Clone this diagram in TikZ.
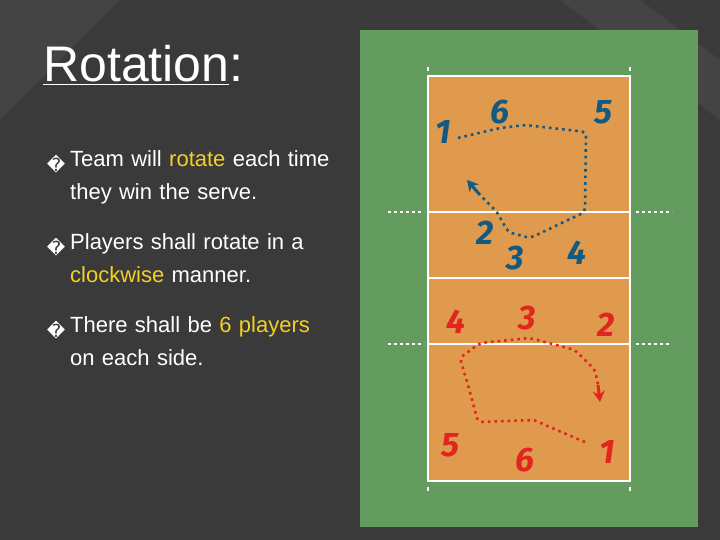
\documentclass[tikz,border=0pt]{standalone}
\usepackage{fontspec}
\setmainfont{Liberation Sans}
\newfontfamily\handfont{Fira Sans}
\newfontfamily\symfont{DejaVu Sans}
\usetikzlibrary{arrows.meta,positioning}
\definecolor{slate}{HTML}{3A3A3A}
\definecolor{stripe}{HTML}{444444}
\definecolor{grass}{HTML}{639C5E}
\definecolor{floor}{HTML}{E09A4E}
\definecolor{teamblue}{HTML}{145A80}
\definecolor{teamred}{HTML}{E0261E}
\definecolor{hilite}{HTML}{F2D024}
\newcommand{\hl}[1]{\textcolor{hilite}{#1}}
\begin{document}
\begin{tikzpicture}[x=1pt,y=-1pt,
  bullet/.style = {anchor=north west, text=white, font=\fontsize{22}{33}\selectfont, align=left, text width=270pt, inner sep=0pt},
  mark box/.style = {text=white, font=\symfont\fontsize{18}{18}\selectfont},
  blue num/.style = {text=teamblue, font=\handfont\bfseries\itshape\fontsize{34}{34}\selectfont},
  red num/.style = {text=teamred, font=\handfont\bfseries\itshape\fontsize{34}{34}\selectfont},
  court line/.style = {white, line width=1.8pt},
  side dash/.style = {white, line width=1.2pt, dash pattern=on 3pt off 3pt},
  blue route/.style = {teamblue, line width=2.6pt, dash pattern=on 2.6pt off 4pt, rounded corners=4pt},
  red route/.style = {teamred, line width=2.6pt, dash pattern=on 2.6pt off 4pt, rounded corners=4pt}]
\useasboundingbox (0,0) rectangle (720,540);
\fill[slate] (0,0) rectangle (720,540);
\fill[stripe] (0,0) -- (120,0) -- (0,120) -- cycle;
\fill[stripe] (560,0) -- (640,0) -- (720,60) -- (720,120) -- cycle;
% title and bullets
\node[anchor=base west, text=white, font=\fontsize{50}{50}\selectfont, inner sep=0pt] (title) at (43,82) {\underline{Rotation}:};
\node[mark box] (b1) at (56,164) {�};
\node[mark box] (b2) at (56,247) {�};
\node[mark box] (b3) at (56,330) {�};
\node[bullet] (t1) at (70,150) {Team will \hl{rotate} each time they win the serve.};
\node[bullet] (t2) at (70,233) {Players shall rotate in a \hl{clockwise} manner.};
\node[bullet] (t3) at (70,316) {There shall be \hl{6} \hl{players} on each side.};
% court
\fill[grass] (360,30) rectangle (698,527);
\fill[floor] (428,76) rectangle (630,481);
\draw[court line] (428,76) rectangle (630,481);
\foreach \y in {212,278,344} { \draw[court line] (428,\y) -- (630,\y); }
\foreach \y in {212,344} {
  \draw[side dash] (388,\y) -- (424,\y);
  \draw[side dash] (636,\y) -- (672,\y);
}
\foreach \x in {428,630} {
  \draw[white, line width=1.2pt] (\x,67) -- (\x,71);
  \draw[white, line width=1.2pt] (\x,487) -- (\x,491);
}
% blue team
\node[blue num] (u1) at (443,132) {1};
\node[blue num] (u6) at (500,112) {6};
\node[blue num] (u5) at (603,112) {5};
\node[blue num] (u2) at (485,233) {2};
\node[blue num] (u3) at (515,258) {3};
\node[blue num] (u4) at (577,253) {4};
\coordinate (utip) at (467,180);
\draw[blue route] (458,138) -- (500,128) -- (525,125) -- (586,132) -- (585,212) -- (530,238) -- (508,232) -- (497,212) -- (480,195);
\draw[teamblue, line width=3pt, -{Stealth[length=11pt,width=12pt]}] (480,195) -- (utip);
% red team
\node[red num] (d4) at (456,322) {4};
\node[red num] (d3) at (527,318) {3};
\node[red num] (d2) at (606,325) {2};
\node[red num] (d5) at (450,445) {5};
\node[red num] (d6) at (525,460) {6};
\node[red num] (d1) at (607,452) {1};
\coordinate (dtip) at (600,402);
\draw[red route] (585,442) -- (545,425) -- (535,420) -- (478,422) -- (470,392) -- (460,358) -- (480,343) -- (530,338) -- (575,350) -- (595,370) -- (598,385);
\draw[teamred, line width=3pt, -{Stealth[length=11pt,width=12pt]}] (598,385) -- (dtip);
\end{tikzpicture}
\end{document}
